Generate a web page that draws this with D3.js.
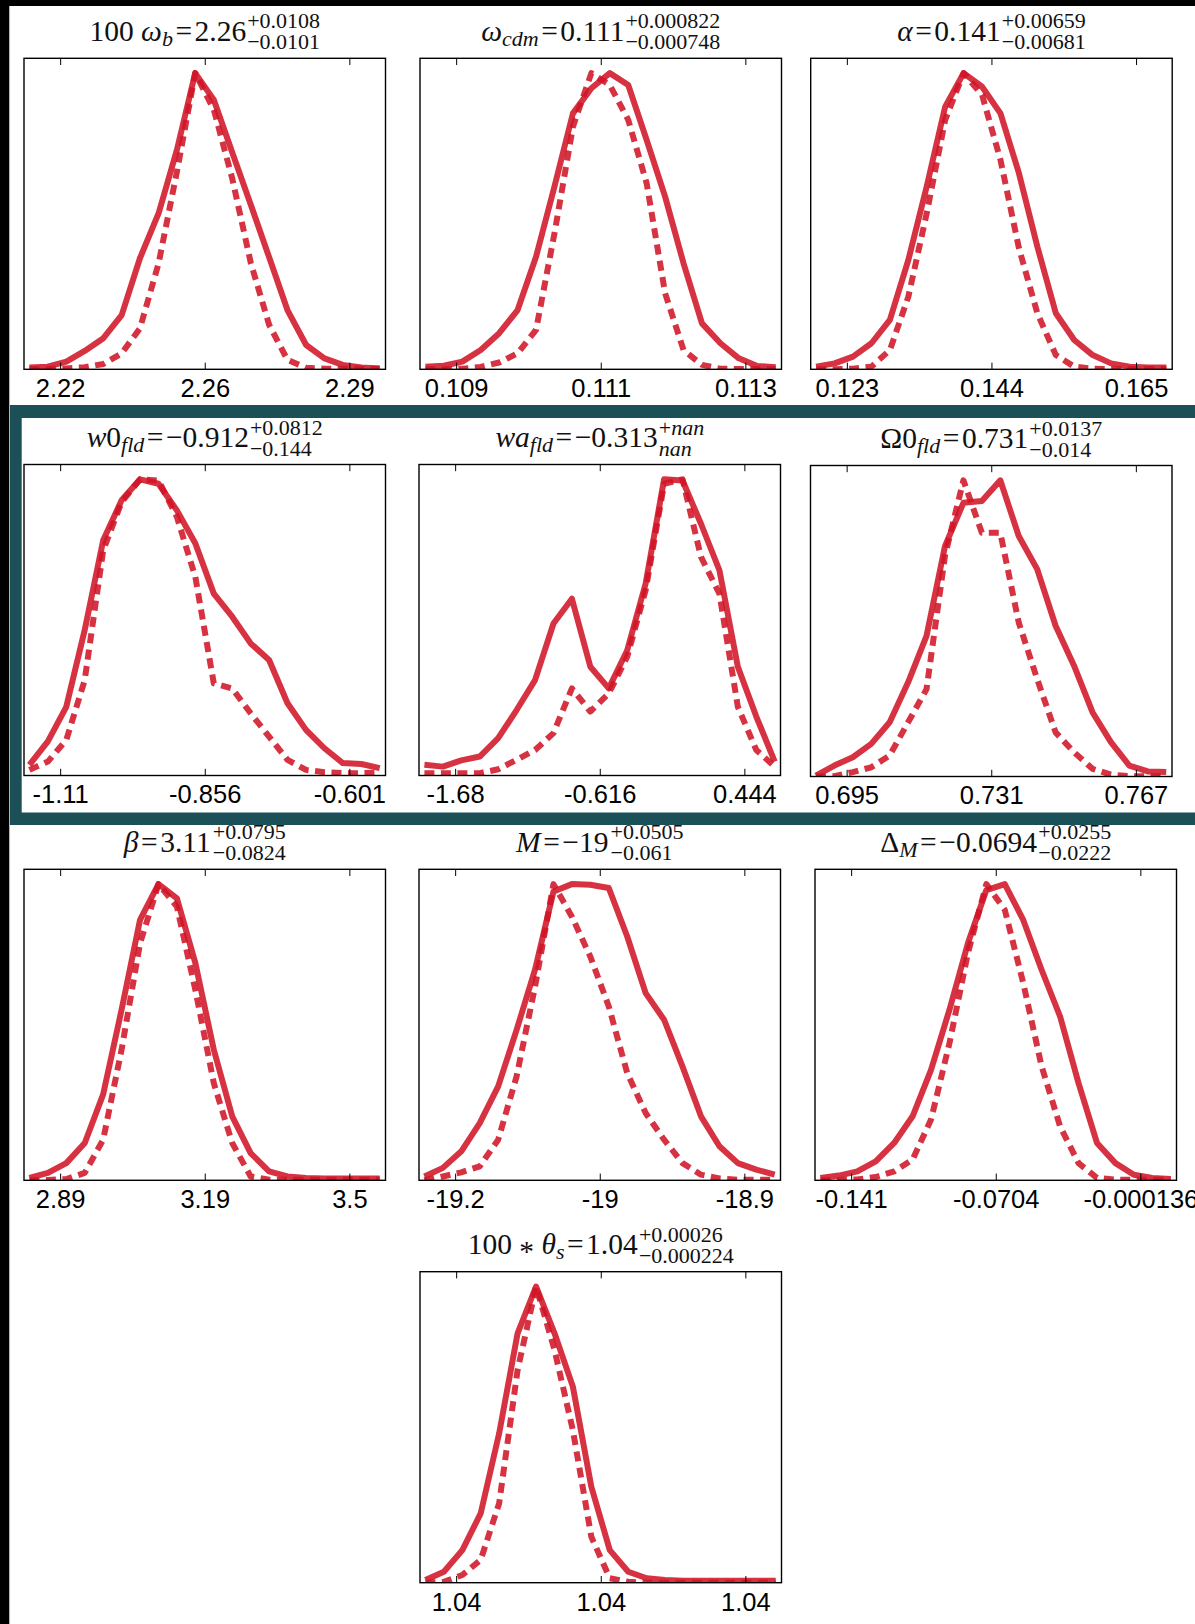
<!DOCTYPE html>
<html>
<head>
<meta charset="utf-8">
<script src="https://cdn.jsdelivr.net/npm/d3@7"></script>
<style>
  html, body { margin: 0; padding: 0; background: #fff; }
  svg { display: block; }
  .tick text { font-family: "Liberation Sans", Arial, Helvetica, sans-serif; font-size: 25.5px; fill: #000; }
  .tick line { stroke: #000; stroke-width: 1; }
  .title text { font-family: "Liberation Serif", "Times New Roman", serif; fill: #111; }
</style>
</head>
<body>
<svg id="chart" width="1195" height="1624"></svg>
<script>
// ---- 1D marginal posteriors: bin centres, normalised densities (solid / dashed), axis ranges and tick labels ----

// 100 omega_b
const omegaBRange = [2.214, 2.301];
const omegaBTicks = ["2.22", "2.26", "2.29"];
const omegaBBins = [2.2153, 2.2197, 2.2242, 2.2286, 2.2331, 2.2375, 2.2419, 2.2464, 2.2508, 2.2552, 2.2597, 2.2641, 2.2686, 2.2730, 2.2774, 2.2819, 2.2863, 2.2907, 2.2952, 2.2996];
const omegaBSolid = [0.006, 0.009, 0.026, 0.062, 0.105, 0.183, 0.375, 0.527, 0.741, 1.0, 0.909, 0.733, 0.555, 0.378, 0.200, 0.082, 0.037, 0.015, 0.006, 0.003];
const omegaBDashed = [0, 0.001, 0.003, 0.007, 0.018, 0.054, 0.138, 0.358, 0.667, 1.0, 0.876, 0.645, 0.358, 0.150, 0.032, 0.005, 0.002, 0.002, 0.002, 0.002];

// omega_cdm
const omegaCdmRange = [0.1085, 0.1135];
const omegaCdmTicks = ["0.109", "0.111", "0.113"];
const omegaCdmBins = [0.108575, 0.10883, 0.109085, 0.10934, 0.109595, 0.10985, 0.110105, 0.11036, 0.110615, 0.11087, 0.111125, 0.11138, 0.111635, 0.11189, 0.112145, 0.1124, 0.112655, 0.11291, 0.113165, 0.11342];
const omegaCdmSolid = [0.009, 0.012, 0.026, 0.065, 0.122, 0.200, 0.380, 0.617, 0.864, 0.949, 1.0, 0.960, 0.774, 0.583, 0.358, 0.155, 0.088, 0.037, 0.011, 0.007];
const omegaCdmDashed = [0, 0, 0.002, 0.008, 0.023, 0.054, 0.133, 0.459, 0.819, 1.0, 0.960, 0.842, 0.628, 0.257, 0.065, 0.015, 0.002, 0.001, 0.001, 0];

// alpha
const alphaRange = [0.11775, 0.17025];
const alphaTicks = ["0.123", "0.144", "0.165"];
const alphaBins = [0.11854, 0.12122, 0.12389, 0.12657, 0.12925, 0.13193, 0.1346, 0.13728, 0.13996, 0.14264, 0.14531, 0.14799, 0.15067, 0.15335, 0.15602, 0.1587, 0.16138, 0.16406, 0.16673, 0.16941];
const alphaSolid = [0.009, 0.020, 0.043, 0.088, 0.167, 0.369, 0.617, 0.887, 1.0, 0.954, 0.864, 0.662, 0.414, 0.189, 0.099, 0.048, 0.020, 0.009, 0.006, 0.006];
const alphaDashed = [0, 0, 0.002, 0.009, 0.065, 0.245, 0.527, 0.842, 1.0, 0.926, 0.707, 0.409, 0.189, 0.048, 0.009, 0.002, 0.001, 0.001, 0.001, 0.001];

// w0_fld
const w0Range = [-1.174, -0.538];
const w0Ticks = ["-1.11", "-0.856", "-0.601"];
const w0Bins = [-1.1645, -1.132, -1.0996, -1.0672, -1.0347, -1.0023, -0.9698, -0.9374, -0.905, -0.8725, -0.8401, -0.8077, -0.7752, -0.7428, -0.7104, -0.6779, -0.6455, -0.6131, -0.5806, -0.5482];
const w0Solid = [0.036, 0.115, 0.232, 0.491, 0.794, 0.929, 1.0, 0.985, 0.895, 0.783, 0.614, 0.536, 0.446, 0.390, 0.244, 0.154, 0.092, 0.042, 0.039, 0.025];
const w0Dashed = [0.019, 0.047, 0.120, 0.322, 0.760, 0.923, 1.0, 0.996, 0.873, 0.670, 0.311, 0.294, 0.210, 0.131, 0.053, 0.019, 0.011, 0.008, 0.008, 0.010];

// wa_fld
const waRange = [-1.941, 0.709];
const waTicks = ["-1.68", "-0.616", "0.444"];
const waBins = [-1.9013, -1.7661, -1.631, -1.4958, -1.3607, -1.2255, -1.0904, -0.9552, -0.8201, -0.6849, -0.5498, -0.4146, -0.2795, -0.1443, -0.0092, 0.126, 0.2612, 0.3963, 0.5315, 0.6666];
const waSolid = [0.036, 0.030, 0.051, 0.064, 0.126, 0.221, 0.322, 0.513, 0.597, 0.367, 0.294, 0.423, 0.648, 1.0, 0.996, 0.850, 0.693, 0.367, 0.199, 0.047];
const waDashed = [0.008, 0.008, 0.008, 0.008, 0.021, 0.053, 0.086, 0.143, 0.294, 0.216, 0.277, 0.401, 0.626, 0.985, 1.0, 0.738, 0.614, 0.232, 0.086, 0.030];

// Omega0_fld
const omegaFldRange = [0.686, 0.776];
const omegaFldTicks = ["0.695", "0.731", "0.767"];
const omegaFldBins = [0.68735, 0.69194, 0.69653, 0.70112, 0.70571, 0.7103, 0.71489, 0.71948, 0.72407, 0.72866, 0.73325, 0.73784, 0.74243, 0.74702, 0.75161, 0.7562, 0.76079, 0.76538, 0.76997, 0.77456];
const omegaFldSolid = [0.003, 0.037, 0.065, 0.110, 0.183, 0.318, 0.475, 0.778, 0.924, 0.930, 1.0, 0.812, 0.700, 0.509, 0.374, 0.217, 0.116, 0.037, 0.017, 0.015];
const omegaFldDashed = [0, 0.001, 0.015, 0.031, 0.071, 0.183, 0.295, 0.745, 1.0, 0.823, 0.823, 0.520, 0.329, 0.149, 0.082, 0.026, 0.006, 0.001, 0.001, 0.001];

// beta
const betaRange = [2.81075, 3.57325];
const betaTicks = ["2.89", "3.19", "3.5"];
const betaBins = [2.8222, 2.8611, 2.9, 2.9389, 2.9777, 3.0166, 3.0555, 3.0944, 3.1333, 3.1722, 3.2111, 3.2499, 3.2888, 3.3277, 3.3666, 3.4055, 3.4444, 3.4833, 3.5222, 3.561];
const betaSolid = [0.008, 0.025, 0.058, 0.126, 0.290, 0.576, 0.879, 1.0, 0.952, 0.733, 0.441, 0.216, 0.092, 0.030, 0.013, 0.008, 0.006, 0.006, 0.006, 0.006];
const betaDashed = [0, 0.001, 0.004, 0.025, 0.137, 0.441, 0.800, 1.0, 0.924, 0.643, 0.328, 0.126, 0.013, 0.002, 0.002, 0.002, 0.002, 0.002, 0.002, 0.002];

// M
const mRange = [-19.22, -18.82];
const mTicks = ["-19.2", "-19", "-18.9"];
const mBins = [-19.214, -19.1936, -19.1732, -19.1528, -19.1324, -19.112, -19.0916, -19.0712, -19.0508, -19.0304, -19.01, -18.9896, -18.9692, -18.9488, -18.9284, -18.908, -18.8876, -18.8672, -18.8468, -18.8264];
const mSolid = [0.013, 0.042, 0.098, 0.193, 0.317, 0.508, 0.711, 0.975, 1.0, 0.998, 0.987, 0.823, 0.632, 0.542, 0.384, 0.216, 0.115, 0.058, 0.036, 0.019];
const mDashed = [0, 0.013, 0.027, 0.047, 0.137, 0.351, 0.654, 1.0, 0.890, 0.755, 0.587, 0.362, 0.227, 0.137, 0.058, 0.019, 0.006, 0.002, 0.002, 0.002];

// Delta_M
const deltaMRange = [-0.158266, 0.017434];
const deltaMTicks = ["-0.141", "-0.0704", "-0.000136"];
const deltaMBins = [-0.15563, -0.14667, -0.13771, -0.12875, -0.11979, -0.11083, -0.10187, -0.09291, -0.08395, -0.07498, -0.06602, -0.05706, -0.0481, -0.03914, -0.03018, -0.02122, -0.01226, -0.0033, 0.00566, 0.01462];
const deltaMSolid = [0.008, 0.016, 0.030, 0.064, 0.126, 0.216, 0.373, 0.576, 0.800, 0.980, 1.0, 0.879, 0.710, 0.553, 0.328, 0.126, 0.058, 0.019, 0.008, 0.004];
const deltaMDashed = [0, 0.001, 0.003, 0.011, 0.030, 0.070, 0.205, 0.463, 0.767, 1.0, 0.913, 0.666, 0.384, 0.182, 0.058, 0.008, 0.002, 0.002, 0.002, 0.002];

// 100*theta_s
const thetaRange = [1.0405, 1.0433];
const thetaTicks = ["1.04", "1.04", "1.04"];
const thetaBins = [1.040542, 1.040685, 1.040828, 1.04097, 1.041113, 1.041256, 1.041399, 1.041542, 1.041684, 1.041827, 1.04197, 1.042113, 1.042256, 1.042398, 1.042541, 1.042684, 1.042827, 1.04297, 1.043112, 1.043255];
const thetaSolid = [0.009, 0.037, 0.110, 0.234, 0.504, 0.842, 1.0, 0.842, 0.662, 0.324, 0.110, 0.037, 0.015, 0.009, 0.007, 0.007, 0.007, 0.007, 0.007, 0.007];
const thetaDashed = [0, 0.003, 0.026, 0.077, 0.268, 0.718, 1.0, 0.786, 0.515, 0.155, 0.015, 0.003, 0, 0, 0, 0, 0, 0, 0, 0];

// Panel titles: main part (segments), then the stacked upper / lower errors.
// Segment kinds: "i" italic, "isub" italic subscript, "rel" relation sign, "op" centred operator.
const titles = [
  { main: [["100 "], ["ω", "i"], ["b", "isub"], ["=", "rel"], ["2.26"]], up: [["+0.0108"]], down: [["−0.0101"]] },
  { main: [["ω", "i"], ["cdm", "isub"], ["=", "rel"], ["0.111"]], up: [["+0.000822"]], down: [["−0.000748"]] },
  { main: [["α", "i"], ["=", "rel"], ["0.141"]], up: [["+0.00659"]], down: [["−0.00681"]] },
  { main: [["w", "i"], ["0"], ["fld", "isub"], ["=", "rel"], ["−0.912"]], up: [["+0.0812"]], down: [["−0.144"]] },
  { main: [["wa", "i"], ["fld", "isub"], ["=", "rel"], ["−0.313"]], up: [["+"], ["nan", "i"]], down: [["nan", "i"]] },
  { main: [["Ω0"], ["fld", "isub"], ["=", "rel"], ["0.731"]], up: [["+0.0137"]], down: [["−0.014"]] },
  { main: [["β", "i"], ["=", "rel"], ["3.11"]], up: [["+0.0795"]], down: [["−0.0824"]] },
  { main: [["M", "i"], ["=", "rel"], ["−19"]], up: [["+0.0505"]], down: [["−0.061"]] },
  { main: [["Δ"], ["M", "isub"], ["=", "rel"], ["−0.0694"]], up: [["+0.0255"]], down: [["−0.0222"]] },
  { main: [["100 "], ["*", "op"], [" "], ["θ", "i"], ["s", "isub"], ["=", "rel"], ["1.04"]], up: [["+0.00026"]], down: [["−0.000224"]] }
];

const panels = [
  { bins: omegaBBins, solid: omegaBSolid, dashed: omegaBDashed, range: omegaBRange, ticks: omegaBTicks },
  { bins: omegaCdmBins, solid: omegaCdmSolid, dashed: omegaCdmDashed, range: omegaCdmRange, ticks: omegaCdmTicks },
  { bins: alphaBins, solid: alphaSolid, dashed: alphaDashed, range: alphaRange, ticks: alphaTicks },
  { bins: w0Bins, solid: w0Solid, dashed: w0Dashed, range: w0Range, ticks: w0Ticks },
  { bins: waBins, solid: waSolid, dashed: waDashed, range: waRange, ticks: waTicks },
  { bins: omegaFldBins, solid: omegaFldSolid, dashed: omegaFldDashed, range: omegaFldRange, ticks: omegaFldTicks },
  { bins: betaBins, solid: betaSolid, dashed: betaDashed, range: betaRange, ticks: betaTicks },
  { bins: mBins, solid: mSolid, dashed: mDashed, range: mRange, ticks: mTicks },
  { bins: deltaMBins, solid: deltaMSolid, dashed: deltaMDashed, range: deltaMRange, ticks: deltaMTicks },
  { bins: thetaBins, solid: thetaSolid, dashed: thetaDashed, range: thetaRange, ticks: thetaTicks }
];

// ---- layout ----
const PW = 361.5, PH = 311;
const origins = [
  [24, 58.3], [420, 58.3], [810.7, 58.3],
  [24, 464.5], [419, 464.5], [810.5, 465.5],
  [24, 869.3], [419, 869.3], [815, 869.3],
  [420, 1271.7]
];
const tickFractions = [0.1, 0.5, 0.9];
const lineColor = "#d01426";
const MAIN_SIZE = 29.5, SCRIPT_SIZE = 22;

const svg = d3.select("#chart");

// page background and the framing bands
svg.append("rect").attr("x", 0).attr("y", 0).attr("width", 1195).attr("height", 1624).attr("fill", "#fff");
svg.append("rect").attr("x", 10).attr("y", 405).attr("width", 1185).attr("height", 420).attr("fill", "#1b5058");
svg.append("rect").attr("x", 21.7).attr("y", 418).attr("width", 1173.3).attr("height", 394.5).attr("fill", "#fff");
svg.append("rect").attr("x", 0).attr("y", 0).attr("width", 1195).attr("height", 6).attr("fill", "#000");
svg.append("rect").attr("x", 0).attr("y", 0).attr("width", 9.3).attr("height", 1624).attr("fill", "#000");
svg.append("rect").attr("x", 9.3).attr("y", 6).attr("width", 0.8).attr("height", 399).attr("fill", "#bbb");
svg.append("rect").attr("x", 9.3).attr("y", 825).attr("width", 0.8).attr("height", 799).attr("fill", "#bbb");

function drawTitle(g, spec, cx, baseline) {
  const tg = g.append("g").attr("class", "title");
  const main = tg.append("text").attr("x", 0).attr("y", 0).attr("font-size", MAIN_SIZE);
  let shift = 0;
  let padNext = 0;
  spec.main.forEach(([txt, kind]) => {
    const ts = main.append("tspan").text(txt);
    const isSub = kind === "isub";
    const target = isSub ? 5 : (kind === "op" ? 7 : 0);
    if (target !== shift) { ts.attr("dy", target - shift); shift = target; }
    if (kind === "i" || isSub) ts.attr("font-style", "italic");
    if (isSub) ts.attr("font-size", SCRIPT_SIZE);
    let dx = padNext;
    padNext = 0;
    if (kind === "rel") { dx += 2.5; padNext = 2.5; }
    if (dx) ts.attr("dx", dx);
  });
  const mw = main.node().getBBox().width + (padNext || 0);
  const addScript = (segs, dy) => {
    const t = tg.append("text").attr("x", mw + 1).attr("y", dy).attr("font-size", SCRIPT_SIZE);
    segs.forEach(([txt, kind]) => {
      const ts = t.append("tspan").text(txt);
      if (kind === "i") ts.attr("font-style", "italic");
    });
    return t.node().getComputedTextLength();
  };
  const uw = addScript(spec.up, -12.5);
  const dw = addScript(spec.down, 8.5);
  const total = mw + 1 + Math.max(uw, dw);
  tg.attr("transform", `translate(${cx - total / 2},${baseline})`);
}

panels.forEach((p, idx) => {
  const [ox, oy] = origins[idx];
  const g = svg.append("g").attr("transform", `translate(${ox},${oy})`);

  const x = d3.scaleLinear().domain(p.range).range([0, PW]);
  const y = d3.scaleLinear().domain([0, 1.05]).range([PH, 0]);

  const clipId = `clip-${idx}`;
  g.append("clipPath").attr("id", clipId)
    .append("rect").attr("width", PW).attr("height", PH);

  const line = d3.line().x(d => x(d[0])).y(d => y(d[1]));
  const plot = g.append("g").attr("clip-path", `url(#${clipId})`);

  plot.append("path")
    .datum(d3.zip(p.bins, p.solid))
    .attr("d", line)
    .attr("fill", "none")
    .attr("stroke", lineColor)
    .attr("stroke-opacity", 0.87)
    .attr("stroke-width", 6)
    .attr("stroke-linejoin", "round");

  plot.append("path")
    .datum(d3.zip(p.bins, p.dashed))
    .attr("d", line)
    .attr("fill", "none")
    .attr("stroke", lineColor)
    .attr("stroke-opacity", 0.87)
    .attr("stroke-width", 6)
    .attr("stroke-dasharray", "10,6.5")
    .attr("stroke-linejoin", "round");

  const lo = p.range[0], span = p.range[1] - p.range[0];
  const tickVals = tickFractions.map(f => lo + f * span);

  const bottom = g.append("g").attr("transform", `translate(0,${PH})`)
    .call(d3.axisBottom(x).tickValues(tickVals)
      .tickFormat((d, i) => p.ticks[i])
      .tickSizeInner(-6.7).tickSizeOuter(0).tickPadding(9.8));
  bottom.select(".domain").remove();

  const top = g.append("g")
    .call(d3.axisTop(x).tickValues(tickVals).tickFormat("")
      .tickSizeInner(-6.7).tickSizeOuter(0));
  top.select(".domain").remove();

  g.append("rect").attr("width", PW).attr("height", PH)
    .attr("fill", "none").attr("stroke", "#000").attr("stroke-width", 1.4);

  drawTitle(g, titles[idx], PW / 2, -17.5);
});
</script>
</body>
</html>
